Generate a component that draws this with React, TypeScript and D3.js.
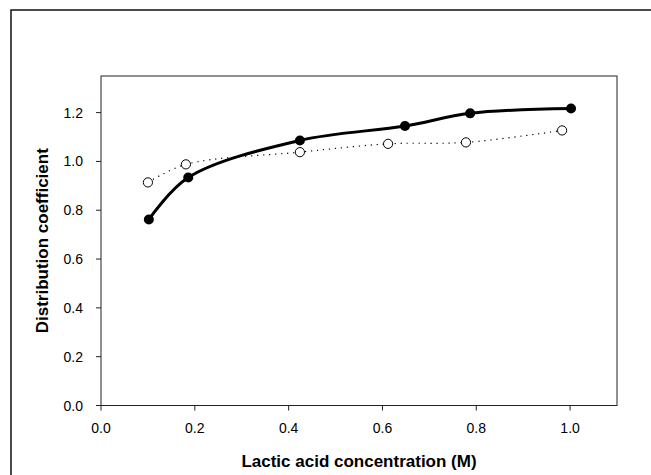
import * as d3 from "d3";

// solid series (filled markers)
const filledX = [0.102, 0.186, 0.424, 0.648, 0.787, 1.002];
const filledY = [0.762, 0.934, 1.086, 1.145, 1.197, 1.217];

// dotted series (open markers)
const openX = [0.1, 0.181, 0.424, 0.612, 0.778, 0.983];
const openY = [0.914, 0.988, 1.038, 1.072, 1.078, 1.127];

const xTicks = [0, 0.2, 0.4, 0.6, 0.8, 1.0];
const yTicks = [0, 0.2, 0.4, 0.6, 0.8, 1.0, 1.2];

const xTitle = "Lactic acid concentration (M)";
const yTitle = "Distribution coefficient";

const width = 651;
const height = 475;

// plot area in pixels
const left = 101;
const right = 617;
const top = 76;
const bottom = 405.5;

const font = "'Liberation Sans', Arial, sans-serif";

export default function App() {
  const x = d3.scaleLinear([0, 1.1], [left, right]);
  const y = d3.scaleLinear([0, 1.35], [bottom, top]);
  const fmt = d3.format(".1f");

  const line = d3
    .line<[number, number]>()
    .x((d) => x(d[0]))
    .y((d) => y(d[1]))
    .curve(d3.curveCatmullRom.alpha(0.5));

  const filled: [number, number][] = filledX.map((v, i) => [v, filledY[i]]);
  const open: [number, number][] = openX.map((v, i) => [v, openY[i]]);

  return (
    <div style={{ position: "absolute", left: 0, top: 0 }}>
      <svg width={width} height={height} style={{ display: "block" }}>
        <rect width={width} height={height} fill="#fff" />
        {/* outer frame, runs off the right and bottom edge */}
        <rect
          x={11}
          y={10}
          width={width + 20}
          height={height + 20}
          fill="none"
          stroke="#111"
          strokeWidth={1.5}
        />

        {/* plot frame */}
        <rect
          x={left}
          y={top}
          width={right - left}
          height={bottom - top}
          fill="none"
          stroke="#222"
          strokeWidth={1}
        />

        {/* ticks and tick labels */}
        <g fontFamily={font} fontSize={14} fill="#000">
          {xTicks.map((t) => (
            <g key={t}>
              <line
                x1={x(t)}
                x2={x(t)}
                y1={bottom}
                y2={bottom + 5}
                stroke="#222"
              />
              <text x={x(t)} y={433} textAnchor="middle">
                {fmt(t)}
              </text>
            </g>
          ))}
          {yTicks.map((t) => (
            <g key={t}>
              <line
                x1={left - 5}
                x2={left}
                y1={y(t)}
                y2={y(t)}
                stroke="#222"
              />
              <text x={83} y={y(t) + 5} textAnchor="end">
                {fmt(t)}
              </text>
            </g>
          ))}
        </g>

        {/* axis titles */}
        <text
          x={(left + right) / 2}
          y={467}
          textAnchor="middle"
          fontFamily={font}
          fontSize={17}
          fontWeight="bold"
        >
          {xTitle}
        </text>
        <text
          transform={`translate(48 ${(top + bottom) / 2}) rotate(-90)`}
          textAnchor="middle"
          fontFamily={font}
          fontSize={17}
          fontWeight="bold"
        >
          {yTitle}
        </text>

        {/* dotted series with open circles */}
        <path
          d={line(open) ?? ""}
          fill="none"
          stroke="#000"
          strokeWidth={1.2}
          strokeDasharray="1.2 4.8"
        />
        {open.map((d, i) => (
          <circle
            key={i}
            cx={x(d[0])}
            cy={y(d[1])}
            r={4.6}
            fill="#fff"
            stroke="#000"
            strokeWidth={1}
          />
        ))}

        {/* solid series with filled circles */}
        <path d={line(filled) ?? ""} fill="none" stroke="#000" strokeWidth={3} />
        {filled.map((d, i) => (
          <circle key={i} cx={x(d[0])} cy={y(d[1])} r={5} fill="#000" />
        ))}
      </svg>
    </div>
  );
}
